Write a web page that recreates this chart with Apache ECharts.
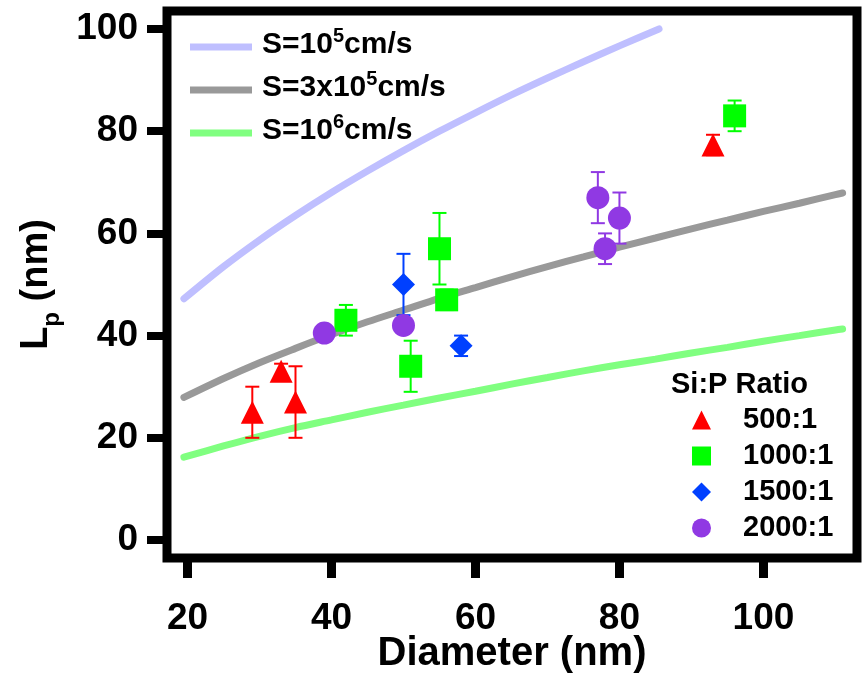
<!DOCTYPE html>
<html><head><meta charset="utf-8">
<script src="https://cdn.jsdelivr.net/npm/echarts@6/dist/echarts.min.js"></script>
<style>html,body{margin:0;padding:0;background:#fff}#c{width:863px;height:674px}</style>
</head><body><div id="c"></div>
<script>
// ---- data ----
const xTicks = [20, 40, 60, 80, 100];
const yTicks = [0, 20, 40, 60, 80, 100];
const lineNames = ['S=10^5cm/s', 'S=3x10^5cm/s', 'S=10^6cm/s'];
const curveX1e5 = [19.5, 25, 30, 35, 40, 45, 50, 55, 60, 65, 70, 75, 80, 85.5];
const curveY1e5 = [47.2, 53.5, 58.7, 63.5, 68.0, 72.2, 76.2, 80.0, 83.6, 87.1, 90.4, 93.6, 96.7, 100.0];
const curveX = [19.5, 25, 30, 35, 40, 45, 50, 55, 60, 65, 70, 75, 80, 85, 90, 95, 100, 105, 110, 111];
const curveY3e5 = [27.9, 31.6, 34.7, 37.5, 40.2, 42.7, 45.0, 47.3, 49.4, 51.5, 53.5, 55.4, 57.3, 59.1, 60.9, 62.6, 64.3, 65.9, 67.6, 67.9];
const curveY1e6 = [16.2, 18.4, 20.3, 22.0, 23.5, 25.0, 26.4, 27.8, 29.1, 30.5, 31.8, 33.1, 34.3, 35.4, 36.6, 37.7, 38.9, 40.0, 41.1, 41.3];
const groupNames = ['500:1', '1000:1', '1500:1', '2000:1'];
const d500x = [29, 33, 35, 93];
const d500y = [25, 33, 27, 77.3];
const d500e = [5, 1.5, 7, 2];
const d1000x = [42, 55, 56, 51, 96];
const d1000y = [43, 57, 47, 34, 83];
const d1000e = [3, 7, 2, 5, 3];
const d1500x = [50, 58];
const d1500y = [50, 38];
const d1500e = [6, 2];
const d2000x = [39, 50, 77, 80, 78];
const d2000y = [40.5, 42, 67, 63, 57];
const d2000e = [1.5, 1.5, 5, 5, 3];

// ---- build ----
const FONT = 'Liberation Sans';
const pts = (xs, ys) => xs.map((x, i) => [x, ys[i]]);
const pts3 = (xs, ys, es) => xs.map((x, i) => [x, ys[i], es[i]]);
const lineColors = ['#bfbfff', '#999999', '#80ff80'];
const groupColors = ['#ff0000', '#00ff00', '#0040ff', '#9039e3'];
const groupSymbols = ['triangle', 'rect', 'diamond', 'circle'];
const groups = [
  pts3(d500x, d500y, d500e), pts3(d1000x, d1000y, d1000e),
  pts3(d1500x, d1500y, d1500e), pts3(d2000x, d2000y, d2000e)
];
const lineData = [pts(curveX1e5, curveY1e5), pts(curveX, curveY3e5), pts(curveX, curveY1e6)];

function errBar(color) {
  return function (params, api) {
    const x = api.value(0), y = api.value(1), e = api.value(2);
    const t = api.coord([x, y + e]), b = api.coord([x, y - e]);
    const hw = 7, st = { stroke: color, lineWidth: 2 };
    return { type: 'group', children: [
      { type: 'line', shape: { x1: t[0], y1: t[1], x2: b[0], y2: b[1] }, style: st },
      { type: 'line', shape: { x1: t[0] - hw, y1: t[1], x2: t[0] + hw, y2: t[1] }, style: st },
      { type: 'line', shape: { x1: b[0] - hw, y1: b[1], x2: b[0] + hw, y2: b[1] }, style: st }
    ]};
  };
}

const series = [];
lineNames.forEach((n, i) => {
  series.push({ name: n, type: 'line', data: lineData[i], showSymbol: false, smooth: 0.3,
    z: 1, silent: true,
    itemStyle: { color: lineColors[i] },
    lineStyle: { color: lineColors[i], width: 7, cap: 'round' } });
});
groupNames.forEach((n, i) => {
  series.push({ name: n + ' err', type: 'custom', data: groups[i], z: 2,
    renderItem: errBar(groupColors[i]), encode: { x: 0, y: 1 } });
  series.push({ name: n, type: 'scatter', data: groups[i].map(p => [p[0], p[1]]), z: 3,
    symbol: groupSymbols[i], symbolSize: 23, itemStyle: { color: groupColors[i], opacity: 1 } });
});

const supFmt = {
  'S=10^5cm/s': '{a|S=10}{s|5}{a|cm/s}',
  'S=3x10^5cm/s': '{a|S=3x10}{s|5}{a|cm/s}',
  'S=10^6cm/s': '{a|S=10}{s|6}{a|cm/s}'
};

const option = {
  animation: false,
  backgroundColor: '#fff',
  title: { text: 'Si:P Ratio', left: 671, top: 370, padding: 0,
    textStyle: { fontFamily: FONT, fontWeight: 'bold', fontSize: 29, color: '#000' } },
  grid: { left: 167, right: 6, top: 11, bottom: 116, show: true, outerBoundsMode: 'none',
    containLabel: false,
    borderColor: '#000', borderWidth: 9, backgroundColor: 'transparent' },
  legend: [
    { data: lineNames, orient: 'vertical', left: 190, top: 26, padding: 0,
      icon: 'rect', itemWidth: 62, itemHeight: 7, itemGap: 1, selectedMode: false,
      formatter: n => supFmt[n],
      textStyle: { padding: [0, 0, 8, 5],
        rich: {
          a: { fontFamily: FONT, fontWeight: 'bold', fontSize: 30, color: '#000', lineHeight: 34, verticalAlign: 'bottom' },
          s: { fontFamily: FONT, fontWeight: 'bold', fontSize: 20, color: '#000', lineHeight: 20, verticalAlign: 'top', padding: [0, 0, 22, 0] }
        } } },
    { data: groupNames, orient: 'vertical', left: 692, top: 405, padding: 0,
      itemWidth: 19, itemHeight: 19, itemGap: 6, selectedMode: false,
      textStyle: { fontFamily: FONT, fontWeight: 'bold', fontSize: 29, color: '#000',
        lineHeight: 30, padding: [0, 0, 0, 27] } }
  ],
  xAxis: {
    type: 'value', min: 17.15, max: 113,
    name: 'Diameter (nm)', nameLocation: 'middle', nameGap: 76, nameMoveOverlap: false,
    nameTextStyle: { fontFamily: FONT, fontWeight: 'bold', fontSize: 40, color: '#000' },
    axisLine: { show: false, onZero: false }, splitLine: { show: false },
    axisTick: { show: true, length: 20, customValues: xTicks, lineStyle: { color: '#000', width: 9 } },
    axisLabel: { customValues: xTicks, margin: 42, fontFamily: FONT, fontWeight: 'bold', fontSize: 37, color: '#000' }
  },
  yAxis: {
    type: 'value', min: -3.52, max: 103.52,
    name: '{a|L}{b|p}{a| (nm)}', nameLocation: 'middle', nameGap: 109, nameMoveOverlap: false,
    nameTextStyle: { color: '#000',
      rich: {
        a: { fontFamily: FONT, fontWeight: 'bold', fontSize: 38, color: '#000', lineHeight: 40, verticalAlign: 'top' },
        b: { fontFamily: FONT, fontWeight: 'bold', fontSize: 24, color: '#000', lineHeight: 24, verticalAlign: 'top', padding: [22, 0, 0, 0] }
      } },
    axisLine: { show: false, onZero: false }, splitLine: { show: false },
    axisTick: { show: true, length: 20, customValues: yTicks, lineStyle: { color: '#000', width: 8 } },
    axisLabel: { customValues: yTicks, margin: 29, fontFamily: FONT, fontWeight: 'bold', fontSize: 37, color: '#000' }
  },
  series: series
};
const chart = echarts.init(document.getElementById('c'), null, { renderer: 'canvas' });
chart.setOption(option);
</script></body></html>
